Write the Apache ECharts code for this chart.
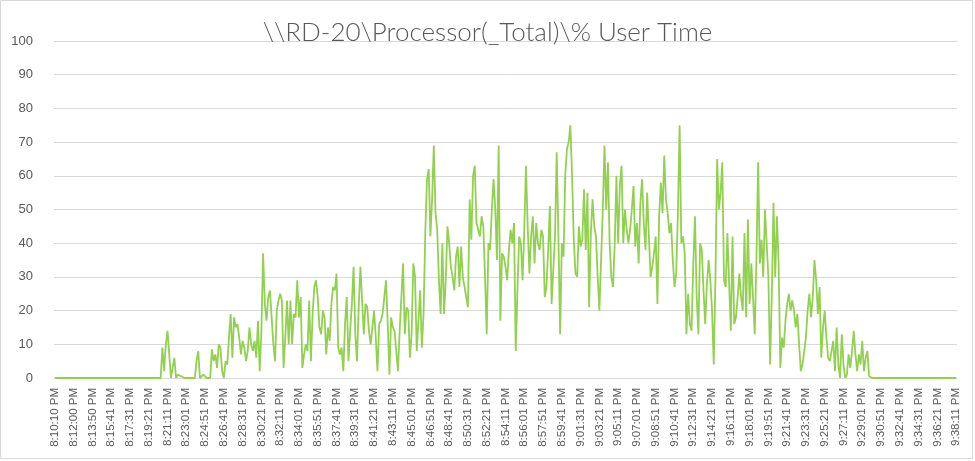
<!DOCTYPE html>
<html>
<head>
<meta charset="utf-8">
<script src="https://cdn.jsdelivr.net/npm/echarts@6/dist/echarts.min.js"></script>
<style>
html,body{margin:0;padding:0;background:#fff;}
#main{width:975px;height:461px;}
</style>
</head>
<body>
<div id="main"></div>
<script>
const titleText = "\\\\RD-20\\Processor(_Total)\\% User Time";

const tickLabels = [
"8:10:10 PM","8:12:00 PM","8:13:50 PM","8:15:41 PM","8:17:31 PM","8:19:21 PM","8:21:11 PM","8:23:01 PM",
"8:24:51 PM","8:26:41 PM","8:28:31 PM","8:30:21 PM","8:32:11 PM","8:34:01 PM","8:35:51 PM","8:37:41 PM",
"8:39:31 PM","8:41:21 PM","8:43:11 PM","8:45:01 PM","8:46:51 PM","8:48:41 PM","8:50:31 PM","8:52:21 PM",
"8:54:11 PM","8:56:01 PM","8:57:51 PM","8:59:41 PM","9:01:31 PM","9:03:21 PM","9:05:11 PM","9:07:01 PM",
"9:08:51 PM","9:10:41 PM","9:12:31 PM","9:14:21 PM","9:16:11 PM","9:18:01 PM","9:19:51 PM","9:21:41 PM",
"9:23:31 PM","9:25:21 PM","9:27:11 PM","9:29:01 PM","9:30:51 PM","9:32:41 PM","9:34:31 PM","9:36:21 PM",
"9:38:11 PM"
];
const samplesPerTick = 11;

// idle start (8:10:10 PM onward)
const idleStart = [
0,0,0,0,0,0,0,0,0,0,0,0,0,0,0,0,0,0,0,0,0,0,0,0,0,0,0,0,0,0,0,
0,0,0,0,0,0,0,0,0,0,0,0,0,0,0,0,0,0,0,0,0,0,0,0,0,0,0,0,0,0,0
];
const rampUp = [
0,9,2,10,14,7,0,0,6,0,
1,1,0.5,0.5,0,0,0,0,0,0,0,
5,8,0,0,1,1,0,0,0,8.5,5,7,3,10,9,2,0,5,4,
12,19,6,18,15,16,12,7,11,9,5,8,15,10,8,11,6,17,2,14,
37,22,17,24,26,18,10,5,20,23,25,23,3,12,23,10,23,10,19,18
];
const middleA = [
29,18,24,3,7,10,8,23,5,
19,27,29,24,15,13,20,18,7,
15,11,22,27,26,31,9,7,9,2,
16,24,5,14,22,33,13,5,21,33,
33,13,22,21,14,10,15,20,12,2,
16,17,19,24,29,16,1,18,15,14,
8,2,14,24,34,13,21,20,6,
13,34,30,8,8,26,9,19,43,
59,62,42,53,69,49,44,29,19
];
const middleB = [
40,19,29,45,40,33,30,26,36,
39,27,39,30,27,24,21,53,41,60,
63,46,44,42,48,45,30,13,40,
38,50,59,50,35,69,17,37,36,33,
29,38,44,40,46,8,26,42,40,29,
44,63,45,31,42,48,34,46,40,38,
44,42,24,27,38,51,22,32,
42,67,42,13,40,36,60,68,70,
75,60,41,31,30,45,39,41,56
];
const middleC = [
38,55,21,43,53,45,42,30,20,
35,50,69,50,64,40,30,27,40,60,
40,57,63,40,50,44,40,44,
50,57,39,46,34,52,59,46,38,
55,42,30,33,37,42,22,48,58,
49,66,53,49,43,46,35,27,
31,49,75,40,42,37,13,25,16,14,
34,48,24,13,40,38,26,
16,28,35,29,20,4,30,65,
50,55,64,29,27,43,28,14
];
const rampDown = [
42,16,18,24,31,24,20,43,18,
47,22,34,24,13,35,64,34,41,30,
50,40,30,4,24,52,30,48,34,3,
12,9,17,22,25,20,23,20,
15,19,10,2,4,8,12,20,25,
18,24,35,29,19,27,6,15,
20,12,6,5,8,11,2,15,
4,0,13,4,0,1,7,3,8,
14,7,2,7,4,11,2,6,8,0.5
];
const idleEnd = [
0,0,0,0,0,0,0,0,0,0,0,0,0,0,0,0,0,0,0,0,0,0,0,0,0,
0,0,0,0,0,0,0,0,0,0,0,0,0,0,0,0,0,0,0,0,0,0,0,0,0,0
];

const userTime = [].concat(idleStart, rampUp, middleA, middleB, middleC, rampDown, idleEnd);
const categories = userTime.map((_, i) => String(i));

const chart = echarts.init(document.getElementById('main'), null, {renderer: 'canvas'});
chart.setOption({
  animation: false,
  backgroundColor: '#ffffff',
  title: {
    text: titleText,
    left: 'center',
    top: 20,
    padding: 0,
    textStyle: {fontFamily: 'Lato', fontSize: 26, fontWeight: 300, color: '#595959'}
  },
  graphic: [{
    type: 'rect', silent: true,
    shape: {x: 0.5, y: 0.5, width: 972, height: 458},
    style: {fill: 'none', stroke: '#d9d9d9', lineWidth: 1}
  }],
  grid: {left: 54, top: 41, width: 903, height: 337},
  xAxis: {
    type: 'category',
    data: categories,
    boundaryGap: true,
    axisLine: {show: true, lineStyle: {color: '#d9d9d9', width: 1}},
    axisTick: {show: false},
    axisLabel: {
      interval: samplesPerTick - 1,
      rotate: 90,
      margin: 10,
      fontFamily: 'Liberation Sans',
      fontSize: 11.5,
      color: '#595959',
      formatter: (v, idx) => {
        const t = tickLabels[idx / samplesPerTick];
        return t === undefined ? '' : t;
      }
    },
    splitLine: {show: false}
  },
  yAxis: {
    type: 'value',
    min: 0, max: 100, interval: 10,
    axisLine: {show: false},
    axisTick: {show: false},
    axisLabel: {margin: 21, fontFamily: 'Liberation Sans', fontSize: 13, color: '#595959'},
    splitLine: {lineStyle: {color: '#d9d9d9', width: 1}}
  },
  series: [{
    type: 'line',
    data: userTime,
    symbol: 'none',
    lineStyle: {color: '#92D050', width: 1.8},
    itemStyle: {color: '#92D050'}
  }]
});
</script>
</body>
</html>
